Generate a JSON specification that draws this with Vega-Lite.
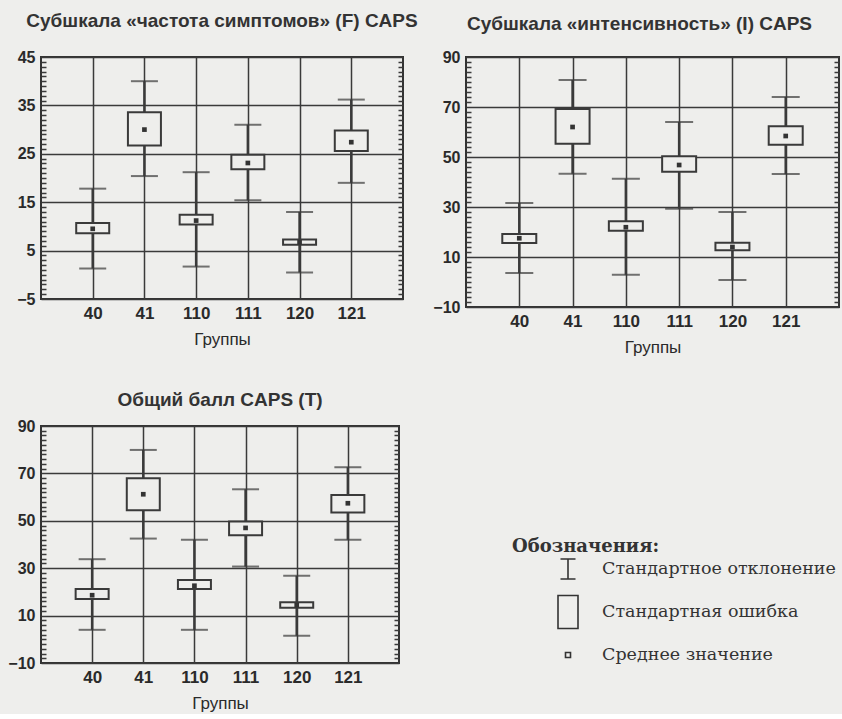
{
  "$schema": "https://vega.github.io/schema/vega-lite/v6.json",
  "background": "#eeeeec",
  "padding": {"left": 6, "top": 11, "right": 2, "bottom": 2},
  "spacing": 34,
  "datasets": {
    "F": [
      {"g": "40", "sdLo": 1.3, "sdHi": 17.8, "seLo": 8.6, "seHi": 10.7, "mean": 9.5},
      {"g": "41", "sdLo": 20.4, "sdHi": 40.0, "seLo": 26.7, "seHi": 33.6, "mean": 30.0},
      {"g": "110", "sdLo": 1.7, "sdHi": 21.2, "seLo": 10.4, "seHi": 12.4, "mean": 11.2},
      {"g": "111", "sdLo": 15.4, "sdHi": 31.0, "seLo": 21.8, "seHi": 24.8, "mean": 23.1},
      {"g": "120", "sdLo": 0.5, "sdHi": 13.0, "seLo": 6.2, "seHi": 7.3, "mean": 6.7},
      {"g": "121", "sdLo": 19.0, "sdHi": 36.2, "seLo": 25.6, "seHi": 29.8, "mean": 27.4}
    ],
    "I": [
      {"g": "40", "sdLo": 3.6, "sdHi": 31.6, "seLo": 15.6, "seHi": 19.2, "mean": 17.5},
      {"g": "41", "sdLo": 43.3, "sdHi": 80.8, "seLo": 55.3, "seHi": 69.2, "mean": 62.0},
      {"g": "110", "sdLo": 2.9, "sdHi": 41.3, "seLo": 20.5, "seHi": 24.3, "mean": 21.9},
      {"g": "111", "sdLo": 29.3, "sdHi": 64.0, "seLo": 44.1, "seHi": 50.3, "mean": 46.8},
      {"g": "120", "sdLo": 0.8, "sdHi": 28.0, "seLo": 12.7, "seHi": 15.7, "mean": 14.0},
      {"g": "121", "sdLo": 43.2, "sdHi": 74.0, "seLo": 54.9, "seHi": 62.3, "mean": 58.4}
    ],
    "T": [
      {"g": "40", "sdLo": 4.0, "sdHi": 33.8, "seLo": 17.0, "seHi": 21.2, "mean": 18.6},
      {"g": "41", "sdLo": 42.5, "sdHi": 79.9, "seLo": 54.5, "seHi": 68.0, "mean": 61.2},
      {"g": "110", "sdLo": 4.0, "sdHi": 42.0, "seLo": 21.2, "seHi": 25.0, "mean": 22.6},
      {"g": "111", "sdLo": 30.7, "sdHi": 63.3, "seLo": 43.9, "seHi": 49.7, "mean": 47.0},
      {"g": "120", "sdLo": 1.5, "sdHi": 26.8, "seLo": 13.3, "seHi": 15.6, "mean": 14.4},
      {"g": "121", "sdLo": 42.0, "sdHi": 72.6, "seLo": 53.5, "seHi": 60.9, "mean": 57.4}
    ],
    "legend": [
      {"item": "Стандартное отклонение", "kind": "sd"},
      {"item": "Стандартная ошибка", "kind": "se"},
      {"item": "Среднее значение", "kind": "mean"}
    ]
  },
  "vconcat": [
    {
      "hconcat": [
        {
          "width": 362, "height": 242,
          "title": {"text": "Субшкала «частота симптомов» (F) CAPS", "frame": "group", "offset": 18},
          "data": {"name": "F"},
          "encoding": {
            "x": {"field": "g", "type": "nominal", "sort": null, "scale": {"type": "point", "padding": 1}, "axis": {"title": "Группы"}}
          },
          "layer": [
            {"mark": {"type": "rule", "color": "#3a3a3a", "strokeWidth": 2.5},
             "encoding": {
               "y": {"field": "sdLo", "type": "quantitative", "scale": {"domain": [-5, 45], "nice": false, "zero": false},
                     "axis": {"title": null, "format": "d", "tickCount": 200, "labelOverlap": false, "values": [-5,-4,-3,-2,-1,0,1,2,3,4,5,6,7,8,9,10,11,12,13,14,15,16,17,18,19,20,21,22,23,24,25,26,27,28,29,30,31,32,33,34,35,36,37,38,39,40,41,42,43,44,45],
                              "labelExpr": "abs(datum.value % 10) == 5 ? datum.label : ''",
                              "gridDash": {"condition": {"test": "abs(datum.value % 10) == 5", "value": []}, "value": [5, 352, 5, 0]}}},
               "y2": {"field": "sdHi"}}},
            {"mark": {"type": "tick", "color": "#3a3a3a", "size": 27, "thickness": 2}, "encoding": {"y": {"field": "sdHi", "type": "quantitative", "title": null}}},
            {"mark": {"type": "tick", "color": "#3a3a3a", "size": 27, "thickness": 2}, "encoding": {"y": {"field": "sdLo", "type": "quantitative", "title": null}}},
            {"mark": {"type": "bar", "size": 33, "fill": "#eeeeec", "stroke": "#3a3a3a", "strokeWidth": 2}, "encoding": {"y": {"field": "seLo", "type": "quantitative", "title": null}, "y2": {"field": "seHi"}}},
            {"mark": {"type": "square", "size": 22, "color": "#333333", "opacity": 1}, "encoding": {"y": {"field": "mean", "type": "quantitative", "title": null}}}
          ]
        },
        {
          "width": 373, "height": 250,
          "title": {"text": "Субшкала «интенсивность» (I) CAPS", "frame": "group", "offset": 15, "dx": -13},
          "data": {"name": "I"},
          "encoding": {
            "x": {"field": "g", "type": "nominal", "sort": null, "scale": {"type": "point", "padding": 1}, "axis": {"title": "Группы"}}
          },
          "layer": [
            {"mark": {"type": "rule", "color": "#3a3a3a", "strokeWidth": 2.5},
             "encoding": {
               "y": {"field": "sdLo", "type": "quantitative", "scale": {"domain": [-10, 90], "nice": false, "zero": false},
                     "axis": {"title": null, "format": "d", "tickCount": 200, "labelOverlap": false, "values": [-10,-8,-6,-4,-2,0,2,4,6,8,10,12,14,16,18,20,22,24,26,28,30,32,34,36,38,40,42,44,46,48,50,52,54,56,58,60,62,64,66,68,70,72,74,76,78,80,82,84,86,88,90],
                              "labelExpr": "(datum.value + 10) % 20 == 0 ? datum.label : ''",
                              "gridDash": {"condition": {"test": "(datum.value + 10) % 20 == 0", "value": []}, "value": [5, 363, 5, 0]}}},
               "y2": {"field": "sdHi"}}},
            {"mark": {"type": "tick", "color": "#3a3a3a", "size": 28, "thickness": 2}, "encoding": {"y": {"field": "sdHi", "type": "quantitative", "title": null}}},
            {"mark": {"type": "tick", "color": "#3a3a3a", "size": 28, "thickness": 2}, "encoding": {"y": {"field": "sdLo", "type": "quantitative", "title": null}}},
            {"mark": {"type": "bar", "size": 34, "fill": "#eeeeec", "stroke": "#3a3a3a", "strokeWidth": 2}, "encoding": {"y": {"field": "seLo", "type": "quantitative", "title": null}, "y2": {"field": "seHi"}}},
            {"mark": {"type": "square", "size": 22, "color": "#333333", "opacity": 1}, "encoding": {"y": {"field": "mean", "type": "quantitative", "title": null}}}
          ]
        }
      ],
      "spacing": 12
    },
    {
      "hconcat": [
        {
          "width": 358, "height": 237,
          "title": {"text": "Общий балл CAPS (T)", "frame": "group", "offset": 8},
          "data": {"name": "T"},
          "encoding": {
            "x": {"field": "g", "type": "nominal", "sort": null, "scale": {"type": "point", "padding": 1}, "axis": {"title": "Группы"}}
          },
          "layer": [
            {"mark": {"type": "rule", "color": "#3a3a3a", "strokeWidth": 2.5},
             "encoding": {
               "y": {"field": "sdLo", "type": "quantitative", "scale": {"domain": [-10, 90], "nice": false, "zero": false},
                     "axis": {"title": null, "format": "d", "tickCount": 200, "labelOverlap": false, "values": [-10,-8,-6,-4,-2,0,2,4,6,8,10,12,14,16,18,20,22,24,26,28,30,32,34,36,38,40,42,44,46,48,50,52,54,56,58,60,62,64,66,68,70,72,74,76,78,80,82,84,86,88,90],
                              "labelExpr": "(datum.value + 10) % 20 == 0 ? datum.label : ''",
                              "gridDash": {"condition": {"test": "(datum.value + 10) % 20 == 0", "value": []}, "value": [5, 348, 5, 0]}}},
               "y2": {"field": "sdHi"}}},
            {"mark": {"type": "tick", "color": "#3a3a3a", "size": 27, "thickness": 2}, "encoding": {"y": {"field": "sdHi", "type": "quantitative", "title": null}}},
            {"mark": {"type": "tick", "color": "#3a3a3a", "size": 27, "thickness": 2}, "encoding": {"y": {"field": "sdLo", "type": "quantitative", "title": null}}},
            {"mark": {"type": "bar", "size": 33, "fill": "#eeeeec", "stroke": "#3a3a3a", "strokeWidth": 2}, "encoding": {"y": {"field": "seLo", "type": "quantitative", "title": null}, "y2": {"field": "seHi"}}},
            {"mark": {"type": "square", "size": 22, "color": "#333333", "opacity": 1}, "encoding": {"y": {"field": "mean", "type": "quantitative", "title": null}}}
          ]
        },
        {
          "width": 112, "height": 237,
          "view": {"stroke": null},
          "title": {"text": "Обозначения:", "anchor": "start", "frame": "group", "font": "DejaVu Serif", "fontSize": 18, "fontWeight": "bold", "color": "#333333", "offset": 0, "dy": 130},
          "data": {"name": "legend"},
          "encoding": {
            "y": {"field": "item", "type": "nominal", "sort": null, "scale": {"type": "point", "range": [143, 229], "padding": 0}, "axis": null}
          },
          "layer": [
            {"mark": {"type": "point", "filled": false, "opacity": 1, "color": "#333333", "strokeWidth": 1.6, "size": 100},
             "encoding": {
               "shape": {"field": "kind", "type": "nominal", "scale": {"domain": ["sd", "se", "mean"], "range": ["M-1.5,-2H1.5M0,-2V2M-1.5,2H1.5", "M-2,-3.3H2V3.3H-2Z", "M-0.5,-0.5H0.5V0.5H-0.5Z"]}, "legend": null}
             }},
            {"mark": {"type": "text", "align": "left", "baseline": "middle", "dx": 34, "font": "DejaVu Serif", "fontSize": 17.5, "color": "#333333"},
             "encoding": {"text": {"field": "item", "type": "nominal"}}}
          ]
        }
      ],
      "spacing": 112
    }
  ],
  "config": {
    "view": {"stroke": "#333333", "strokeWidth": 2},
    "title": {"font": "Liberation Sans", "fontSize": 19, "fontWeight": "bold", "color": "#333333"},
    "axis": {
      "labelFont": "Liberation Sans", "labelFontWeight": "bold", "labelColor": "#2a2a2a",
      "titleFont": "Liberation Sans", "titleFontSize": 17, "titleFontWeight": "normal", "titleColor": "#2a2a2a",
      "ticks": false, "domain": false, "grid": true, "gridColor": "#3a3a3a", "gridWidth": 1.5, "gridOpacity": 1,
      "labelOverlap": false, "labelBound": false
    },
    "axisX": {"labelAngle": 0, "labelPadding": 6, "titlePadding": 10, "labelFontSize": 17},
    "axisY": {"labelPadding": 6, "labelFontSize": 16}
  }
}
